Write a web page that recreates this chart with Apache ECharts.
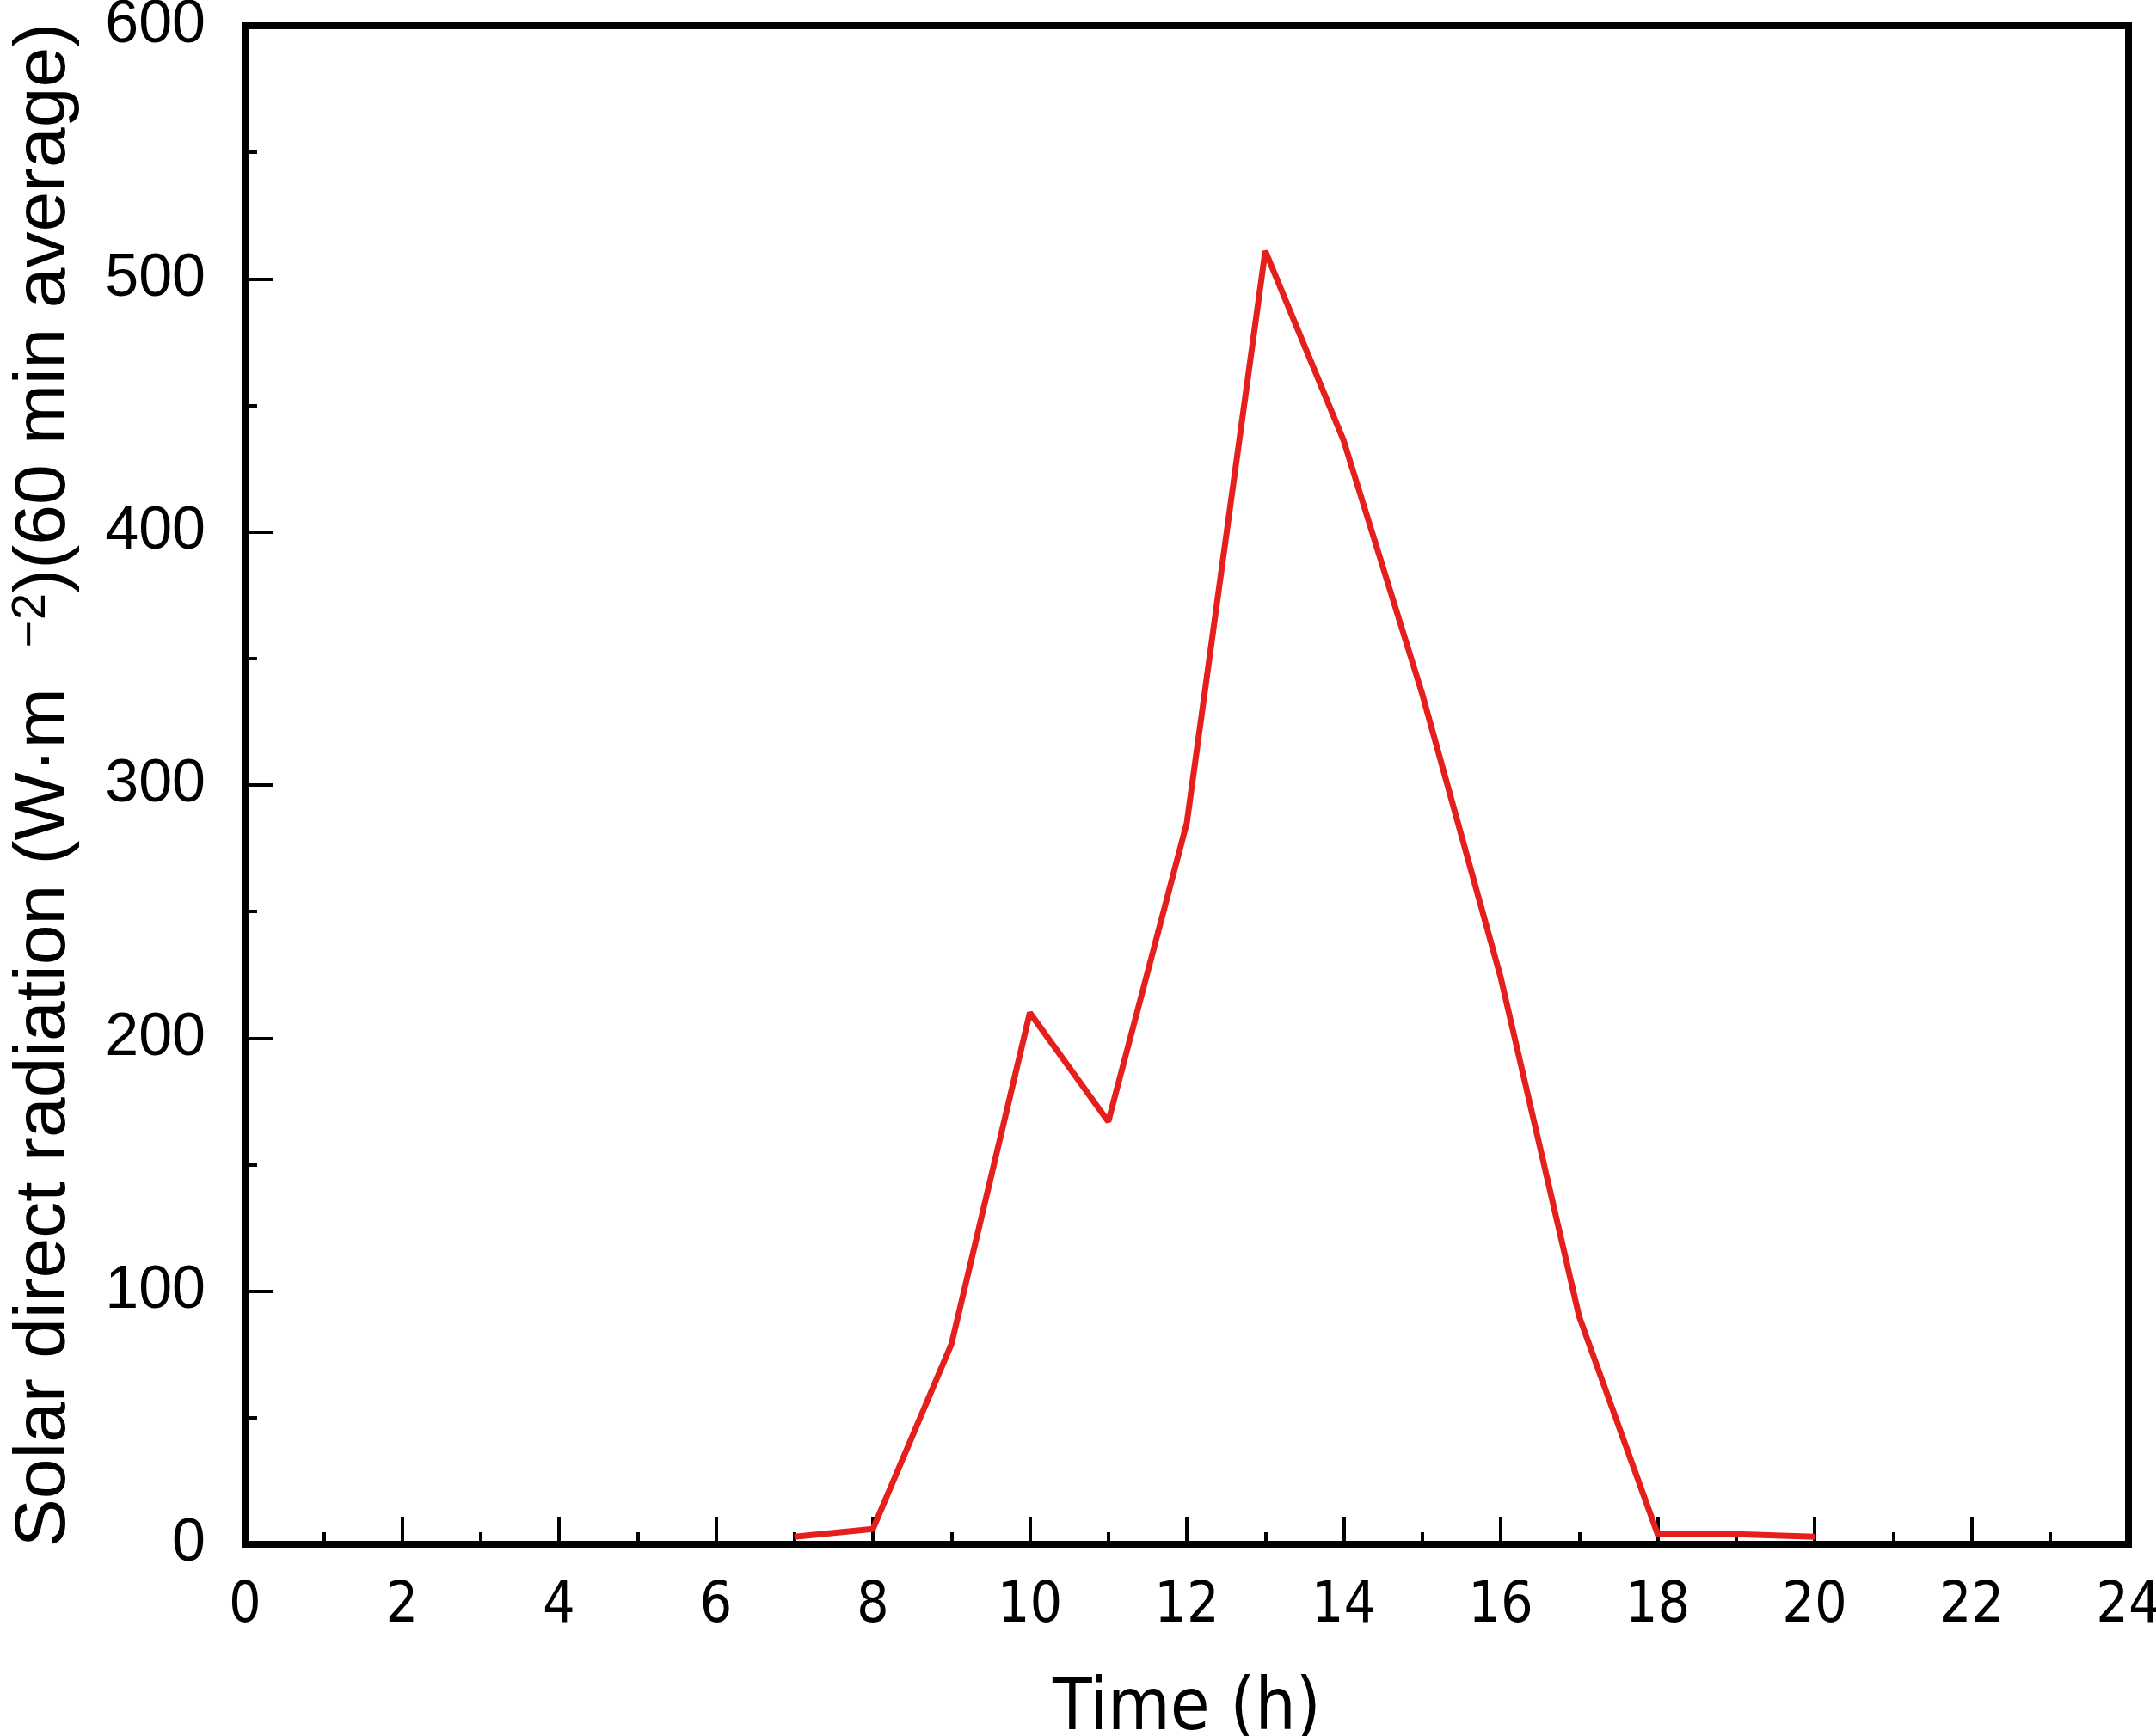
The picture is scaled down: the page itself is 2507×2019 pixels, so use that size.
<!DOCTYPE html>
<html>
<head>
<meta charset="UTF-8">
<title>Solar direct radiation</title>
<script type="text/javascript" src="https://cdn.jsdelivr.net/npm/echarts@6/dist/echarts.min.js"></script>
<style>
  html, body { margin: 0; padding: 0; background: #fff; }
  #main { width: 2507px; height: 2019px; }
</style>
</head>
<body>
<div id="main"></div>
<script type="text/javascript">
    // hourly values
    var hours = [7, 8, 9, 10, 11, 12, 13, 14, 15, 16, 17, 18, 19, 20];
    var radiation = [3, 6, 79, 210, 167, 285, 511, 436, 336, 224, 90, 4, 4, 3];

    var xTicks = [0, 2, 4, 6, 8, 10, 12, 14, 16, 18, 20, 22, 24];
    var yTicks = [0, 100, 200, 300, 400, 500, 600];

    var points = hours.map(function (h, i) {
        return [h, radiation[i]];
    });

    var narrow = '"Liberation Sans Narrow", "DejaVu Sans Condensed", sans-serif';
    var plain = '"Liberation Sans", Arial, sans-serif';

    var myChart = echarts.init(document.getElementById('main'));

    var option = {
        animation: false,
        backgroundColor: '#fff',
        grid: {
            left: 285,
            right: 32,
            top: 30,
            bottom: 223,
            outerBoundsMode: 'none',
            containLabel: false,
            show: true,
            borderColor: '#000',
            borderWidth: 8
        },
        xAxis: {
            type: 'value',
            min: xTicks[0],
            max: xTicks[xTicks.length - 1],
            interval: 2,
            name: 'Time (h)',
            nameLocation: 'middle',
            nameGap: 152,
            nameTextStyle: { fontSize: 83, color: '#000', fontFamily: narrow },
            axisLine: { lineStyle: { color: '#000', width: 8 } },
            axisTick: { inside: true, length: 32, lineStyle: { color: '#000', width: 4 } },
            minorTick: { show: true, splitNumber: 2, length: 14, lineStyle: { color: '#000', width: 4 } },
            splitLine: { show: false },
            axisLabel: { margin: 40, fontSize: 66, color: '#000', fontFamily: narrow }
        },
        yAxis: {
            type: 'value',
            min: yTicks[0],
            max: yTicks[yTicks.length - 1],
            interval: 100,
            name: 'Solar direct radiation (W·m  {sup|−2})(60 min average)',
            nameLocation: 'middle',
            nameGap: 190,
            nameTextStyle: {
                fontSize: 84,
                color: '#000',
                fontFamily: plain,
                rich: {
                    sup: {
                        fontSize: 56,
                        color: '#000',
                        verticalAlign: 'top',
                        padding: [0, 0, 30, 0],
                        fontFamily: plain
                    }
                }
            },
            axisLine: { lineStyle: { color: '#000', width: 8 } },
            axisTick: { inside: true, length: 32, lineStyle: { color: '#000', width: 4 } },
            minorTick: { show: true, splitNumber: 2, length: 14, lineStyle: { color: '#000', width: 4 } },
            splitLine: { show: false },
            axisLabel: { margin: 46, fontSize: 70, color: '#000', fontFamily: plain }
        },
        series: [
            {
                type: 'line',
                data: points,
                symbol: 'none',
                lineStyle: { color: '#e5201c', width: 7 }
            }
        ]
    };

    myChart.setOption(option);
</script>
</body>
</html>
